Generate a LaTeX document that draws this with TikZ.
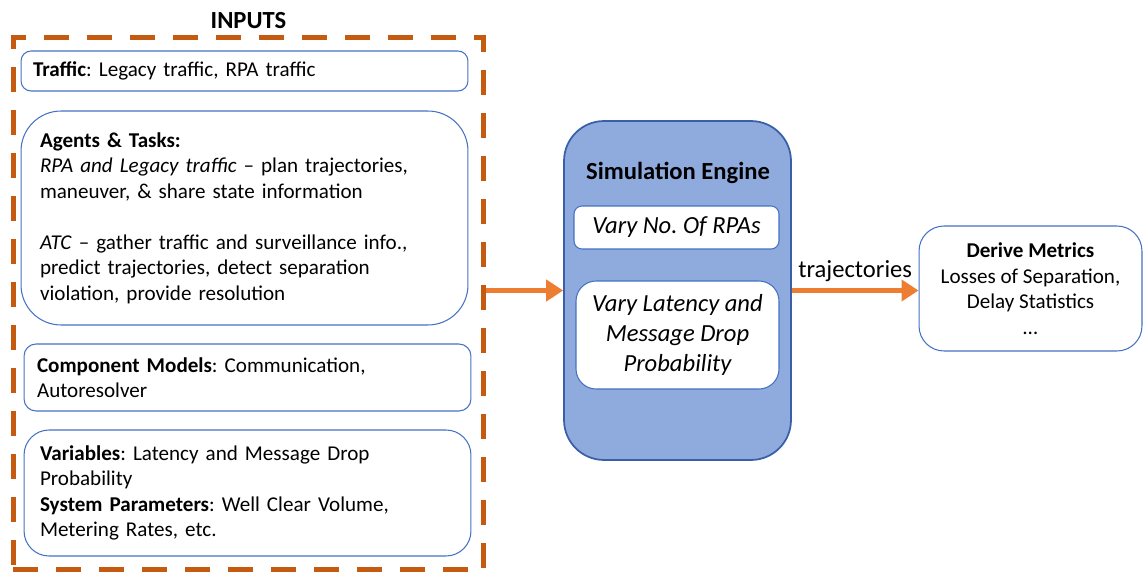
\documentclass[tikz,border=0pt]{standalone}
\usepackage{fontspec}
\setmainfont{Carlito}
\usepackage{xcolor}
\usetikzlibrary{arrows.meta, positioning, calc}

\definecolor{boxblue}{HTML}{4472C4}
\definecolor{simfill}{HTML}{8FAADC}
\definecolor{simedge}{HTML}{3A5FA8}
\definecolor{dashorange}{HTML}{C55A11}
\definecolor{arroworange}{HTML}{ED7D31}

\frenchspacing

\begin{document}
\begin{tikzpicture}[
        x=0.02cm, y=-0.02cm,
        font=\fontsize{12pt}{14.5pt}\selectfont,
        big/.style={font=\fontsize{14pt}{17pt}\selectfont},
        inbox/.style={rectangle, draw=boxblue, line width=0.6pt, fill=white, align=left, minimum width=8.94cm},
        whitebox/.style={rectangle, draw=boxblue, line width=0.6pt, fill=white, align=center},
        flow/.style={arroworange, line width=0.1cm, -{Triangle[length=0.34cm, width=0.42cm]}}
    ]
    \useasboundingbox (0,0) rectangle (1143,574);

    % Inputs frame
    \node[draw=dashorange, line width=0.1cm, dash pattern=on 0.5cm off 0.36cm,
          minimum width=9.42cm, minimum height=10.66cm, inner sep=0] (inputs) at (248.5,303.5) {};
    \node[big, above=0pt of inputs] (inputstitle) {\bfseries INPUTS};

    \node[inbox, rounded corners=0.2cm, minimum height=0.8cm, inner xsep=0.24cm, text width=8.46cm] (traffic) at (244.5,71)
        {\textbf{Traffic}: Legacy traffic, RPA traffic};
    \node[inbox, rounded corners=0.8cm, minimum height=4.28cm, inner xsep=0.38cm, text width=8.18cm] (agents) at (244.5,218)
        {\textbf{Agents \& Tasks:}\\
         \textit{RPA and Legacy traffic} -- plan trajectories,\\
         maneuver, \& share state information\\[14.5pt]
         \textit{ATC} -- gather traffic and surveillance info.,\\
         predict trajectories, detect separation\\
         violation, provide resolution};
    \node[inbox, rounded corners=0.24cm, minimum height=1.34cm, inner xsep=0.26cm, text width=8.42cm] (models) at (247.5,377.5)
        {\textbf{Component Models}: Communication,\\
         Autoresolver};
    \node[inbox, rounded corners=0.5cm, minimum height=2.52cm, inner xsep=0.32cm, text width=8.3cm] (variables) at (247.5,493)
        {\textbf{Variables}: Latency and Message Drop\\
         Probability\\
         \textbf{System Parameters}: Well Clear Volume,\\
         Metering Rates, etc.};

    % Simulation engine
    \node[rectangle, draw=simedge, line width=1pt, fill=simfill, rounded corners=0.8cm,
          minimum width=4.54cm, minimum height=6.78cm] (sim) at (677.5,290.5) {};
    \node[big] (simtitle) at (678,173) {\bfseries Simulation Engine};
    \node[whitebox, big, rounded corners=0.16cm, minimum width=4.1cm, minimum height=0.86cm] (varyrpa) at (676.5,227.5)
        {\itshape Vary No. Of RPAs};
    \node[whitebox, big, rounded corners=0.4cm, minimum width=4.06cm, minimum height=2.16cm] (varylat) at (677.5,335)
        {\itshape Vary Latency and\\ \itshape Message Drop\\ \itshape Probability};

    % Metrics
    \node[whitebox, rounded corners=0.5cm, minimum width=4.46cm, minimum height=2.5cm] (metrics) at (1030.5,288.5)
        {\textbf{Derive Metrics}\\ Losses of Separation,\\ Delay Statistics\\ …};

    % Data flow
    \draw[flow] (inputs.east |- sim.west) -- (sim.west);
    \draw[flow] (sim.east) -- node[above, black, big] {trajectories} (sim.east -| metrics.west);
\end{tikzpicture}
\end{document}
